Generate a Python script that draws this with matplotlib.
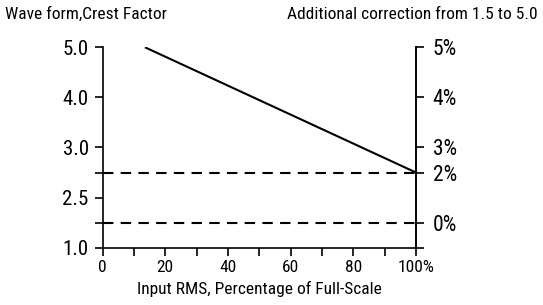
import matplotlib
matplotlib.use("Agg")
import matplotlib.pyplot as plt

plt.rcParams['font.family'] = ["Roboto Condensed", "Liberation Sans", "DejaVu Sans"]

# Data (positions on an abstract grid, labelled as in the reference)
x_ticks = [0, 10, 20, 30, 40, 50, 60, 70, 80, 90, 100]
x_labels = ["0", "", "20", "", "40", "", "60", "", "80", "", "100%"]
left_pos = [0, 1, 2, 3, 4, 6, 8]
left_labels = ["1.0", "", "2.5", "", "3.0", "4.0", "5.0"]
right_pos = [0, 1, 3, 4, 6, 8]
right_labels = ["", "0%", "2%", "3%", "4%", "5%"]
line_x = [13.5, 100]
line_y = [8, 3]
dashed_levels = [1, 3]

fig = plt.figure(figsize=(5.43, 3.05), dpi=100)
ax = fig.add_axes([0.189, 0.188, 0.577, 0.657])
ax.set_xlim(0, 100)
ax.set_ylim(0, 8)

ax.plot(line_x, line_y, color="black", lw=1.5, solid_capstyle="butt")
for lv in dashed_levels:
    ax.axhline(lv, color="black", lw=1.5, dashes=(5, 3.5))

ax.spines["top"].set_visible(False)
for s in ["left", "right", "bottom"]:
    ax.spines[s].set_linewidth(1.2)

ax.set_xticks(x_ticks)
ax.set_xticklabels(x_labels, fontsize=12.5)
ax.set_yticks(left_pos)
ax.set_yticklabels(left_labels, fontsize=15)
ax.tick_params(axis="both", direction="out", length=6, width=1.2, color="black")
ax.tick_params(axis="y", pad=4)
ax.tick_params(axis="x", pad=3)
for i, t in enumerate(ax.yaxis.get_major_ticks()):
    if left_labels[i] == "2.5":
        t.tick1line.set_visible(False)

ax2 = ax.twinx()
ax2.set_ylim(0, 8)
for s in ["top", "left", "bottom"]:
    ax2.spines[s].set_visible(False)
ax2.spines["right"].set_linewidth(1.2)
ax2.set_yticks(right_pos)
ax2.set_yticklabels(right_labels, fontsize=15.5)
ax2.tick_params(axis="y", direction="out", length=6, width=1.2, pad=6)

ax.set_xlabel("Input RMS, Percentage of Full-Scale", fontsize=12.5, labelpad=4)

fig.text(0.009, 0.954, "Wave form,Crest Factor", fontsize=12.5, ha="left", va="center")
fig.text(0.991, 0.954, "Additional correction from 1.5 to 5.0", fontsize=12.5, ha="right", va="center")

fig.savefig("out.png", dpi=100)
